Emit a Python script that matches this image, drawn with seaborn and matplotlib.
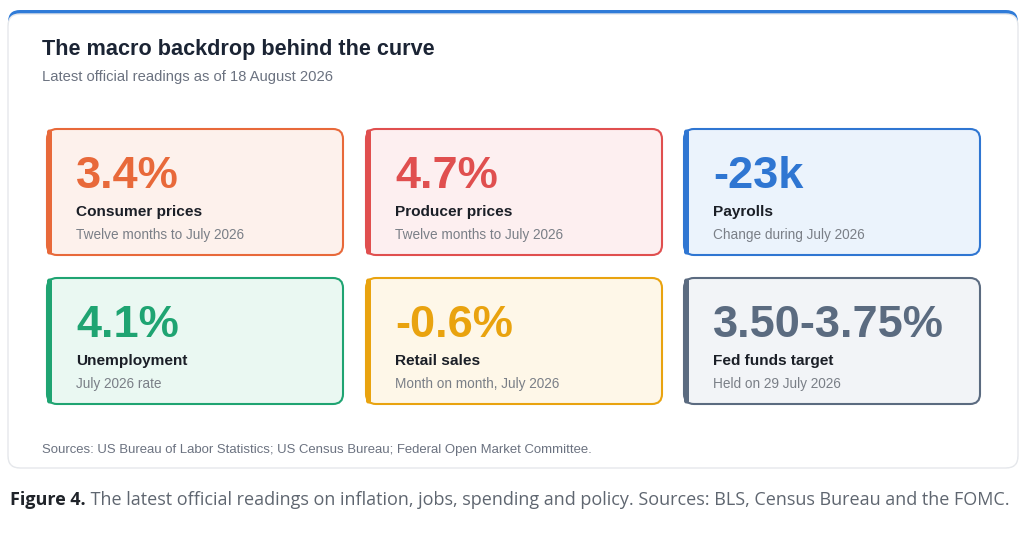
import matplotlib
matplotlib.use("Agg")
import matplotlib.pyplot as plt
from matplotlib.patches import FancyBboxPatch
import seaborn as sns

# --- Data ---
values = ["3.4%", "4.7%", "-23k", "4.1%", "-0.6%", "3.50-3.75%"]
labels = ["Consumer prices", "Producer prices", "Payrolls",
          "Unemployment", "Retail sales", "Fed funds target"]
notes = ["Twelve months to July 2026", "Twelve months to July 2026",
         "Change during July 2026", "July 2026 rate",
         "Month on month, July 2026", "Held on 29 July 2026"]
accents = ["#e8693a", "#e04f4f", "#2f76d2", "#1fa472", "#e9a30f", "#5b6b80"]
fills = ["#fdf1ec", "#fdeff0", "#ebf3fc", "#eaf8f2", "#fef7e8", "#f2f4f7"]

title = "The macro backdrop behind the curve"
subtitle = "Latest official readings as of 18 August 2026"
sources = "Sources: US Bureau of Labor Statistics; US Census Bureau; Federal Open Market Committee."
caption_bold = "Figure 4."
caption_rest = " The latest official readings on inflation, jobs, spending and policy. Sources: BLS, Census Bureau and the FOMC."

sns.set_theme(style="white")
plt.rcParams["font.family"] = ["Liberation Sans", "DejaVu Sans"]

W, H = 1024, 554
fig = plt.figure(figsize=(W / 100, H / 100), dpi=100)
ax = fig.add_axes([0, 0, 1, 1])
ax.set_xlim(0, W)
ax.set_ylim(H, 0)
ax.axis("off")

# outer panel with blue top rule
ax.add_patch(FancyBboxPatch((8, 10), 1010, 458, boxstyle="round,pad=0,rounding_size=12",
                            fc="#2f7bd8", ec="none", zorder=1))
ax.add_patch(FancyBboxPatch((8, 14), 1010, 454, boxstyle="round,pad=0,rounding_size=12",
                            fc="white", ec="#e6e8eb", lw=1, zorder=2))

ax.text(42, 55, title, fontsize=15.6, fontweight="bold", color="#1b2434", va="baseline", zorder=5)
ax.text(42, 81.5, subtitle, fontsize=10.6, color="#6b7280", va="baseline", zorder=5)

# card grid
col_x = [47, 366, 684]
row_y = [129, 278]
cw, ch = 296, 126
for i, (val, lab, note, acc, fc) in enumerate(zip(values, labels, notes, accents, fills)):
    x0 = col_x[i % 3]
    y0 = row_y[i // 3]
    ax.add_patch(FancyBboxPatch((x0, y0), cw, ch, boxstyle="round,pad=0,rounding_size=10",
                                fc=fc, ec=acc, lw=1.5, zorder=3))
    ax.add_patch(FancyBboxPatch((x0, y0 + 0.5), 5, ch - 1, boxstyle="round,pad=0,rounding_size=2.5",
                                fc=acc, ec="none", zorder=4))
    ax.text(x0 + 29, y0 + 59, val, fontsize=32.5, fontweight="bold", color=acc,
            va="baseline", zorder=5)
    ax.text(x0 + 29, y0 + 87, lab, fontsize=11.1, fontweight="bold", color="#1b1f27",
            va="baseline", zorder=5)
    ax.text(x0 + 29, y0 + 110, note, fontsize=9.8, color="#7a7f87", va="baseline", zorder=5)

ax.text(42, 453, sources, fontsize=9.45, color="#6b7280", va="baseline", zorder=5)

# caption below the panel
cap_font = ["Open Sans", "DejaVu Sans"]
t1 = ax.text(10, 505, caption_bold, fontsize=13, fontweight="bold", color="#1f2329",
             va="baseline", family=cap_font)
fig.canvas.draw()
bb = t1.get_window_extent()
x_next = bb.x1
ax.annotate(caption_rest, xy=(x_next, H - 505), xycoords="figure pixels",
            fontsize=13, color="#5f6670", va="baseline", family=cap_font)

fig.savefig("out.png", dpi=100)
